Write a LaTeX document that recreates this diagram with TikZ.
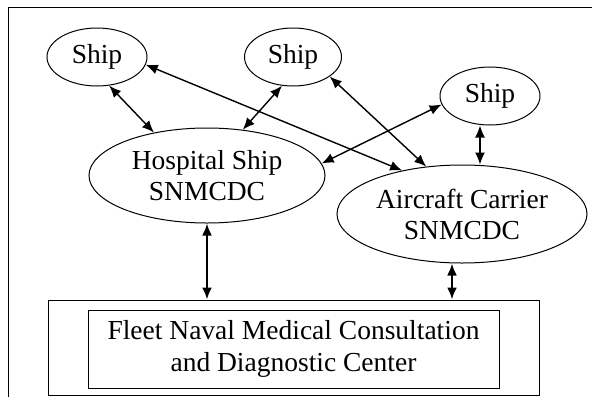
\documentclass[tikz,border=0pt]{standalone}
\usepackage{fontspec}
\setmainfont{Liberation Serif}
\usetikzlibrary{shapes.geometric,arrows.meta}
\begin{document}
\begin{tikzpicture}[x=1pt,y=-1pt,
  elli/.style={draw,ellipse,line width=1pt,inner sep=0pt,align=center,font=\fontsize{27.5}{31}\selectfont},
  boxnode/.style={draw,rectangle,line width=1pt,inner sep=0pt,align=center,font=\fontsize{27.5}{32}\selectfont},
  link/.style={line width=1.4pt,{Latex[length=12pt,width=10pt]}-{Latex[length=12pt,width=10pt]}},
  biglink/.style={line width=2.2pt,{Latex[length=12pt,width=10pt]}-{Latex[length=12pt,width=10pt]}},
  framestyle/.style={line width=0.8pt}]
\useasboundingbox (0,0) rectangle (592,397);
\draw[framestyle] (8,397) -- (8,7) -- (592,7);
\node[elli,minimum width=100pt,minimum height=58pt] (s1) at (97,57) {Ship};
\node[elli,minimum width=97pt,minimum height=58pt] (s2) at (293,57) {Ship};
\node[elli,minimum width=100pt,minimum height=58pt] (s3) at (490,96) {Ship};
\node[elli,minimum width=236pt,minimum height=95pt] (hs) at (207,175.5) {Hospital Ship\\SNMCDC};
\node[elli,minimum width=250pt,minimum height=98pt] (ac) at (462,214) {Aircraft Carrier\\SNMCDC};
\node[draw,rectangle,line width=1pt,minimum width=491pt,minimum height=95pt,inner sep=0pt] (fo) at (293.5,347.5) {};
\node[boxnode,minimum width=411pt,minimum height=78pt] (fi) at (293.5,349) {Fleet Naval Medical Consultation\\and Diagnostic Center};
\draw[link] (s1.-67) -- (hs.141);
\draw[link] (s2.-111) -- (hs.52);
\draw[link] (s1.-9) -- (ac.144);
\draw[link] (s2.-28) -- (ac.127);
\draw[link] (s3.-170) -- (hs.6);
\draw[link] ([xshift=-10pt]s3.south) -- ([xshift=-10pt]s3.south |- ac.north);
\draw[biglink] (hs.south) -- (hs.south |- fo.north);
\draw[biglink] ([xshift=-10pt]ac.south) -- ([xshift=-10pt]ac.south |- fo.north);
\end{tikzpicture}
\end{document}
